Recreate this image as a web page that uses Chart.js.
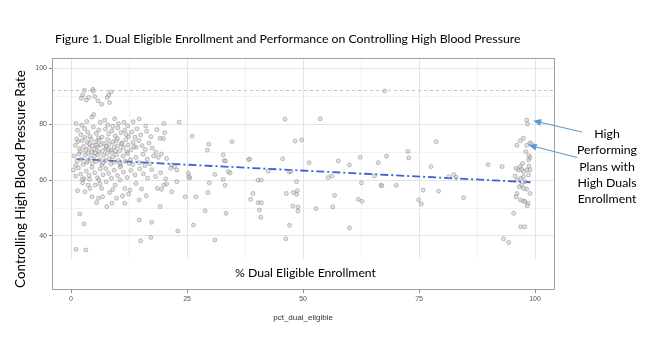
<!DOCTYPE html>
<html>
<head>
<meta charset="utf-8">
<script src="https://cdn.jsdelivr.net/npm/chart.js@4.4.1/dist/chart.umd.min.js"></script>
<style>
  html, body { margin: 0; padding: 0; background: #fff; }
  #chart { display: block; }
</style>
</head>
<body>
<canvas id="chart" width="664" height="340"></canvas>
<script>
// Plans: [pct dual eligible, controlling BP rate]
const lowDualPlans = [
  [2.9,92.1],[4.7,92.4],[4.8,91.8],[2.5,90.4],[3.8,89.5],[5.1,89.8],[5.8,88.3],[6.6,87.1],[8.1,90.4],[7.8,89.5],[8.6,91.4],[8.3,87.7],[2.2,89.2],[3.3,88.6],
  [4.5,82.5],[4.9,83.4],[1.1,80.2],[2.3,79.6],[7.3,81.4],[9.4,81.9],[11.4,80.6],[12.2,79.4],[14.7,81.8],[13.4,80.8],[6.3,80.6],[3.4,80.9],[10.2,80.1],[20.0,80.2],[23.3,80.7],[16.1,79.3],
  [1.4,77.8],[2.1,76.2],[2.9,78.4],[3.6,77.1],[4.1,75.6],[4.8,78.9],[5.4,76.7],[6.0,77.9],[6.7,75.4],[7.4,78.2],[8.1,76.5],[8.8,77.6],[9.5,75.8],[10.1,78.6],[10.8,76.9],[11.6,77.8],
  [12.4,75.6],[13.1,77.2],[14.2,78.3],[15.0,76.1],[16.3,77.4],[17.2,75.5],[18.5,78.0],[20.2,76.9],[19.9,74.8],[19.2,74.9],[3.0,75.2],[5.9,75.1],[9.0,79.2],[11.9,76.2],[7.9,79.7],[13.8,75.3],
  [0.9,72.4],[1.5,73.8],[1.8,71.2],[2.4,74.1],[2.7,72.0],[3.1,70.6],[3.5,73.4],[3.9,71.5],[4.3,74.6],[4.6,72.3],[5.0,70.9],[5.3,73.7],[5.7,71.8],[6.1,74.2],[6.4,72.6],[6.8,70.4],
  [7.1,73.1],[7.5,71.4],[7.9,74.5],[8.2,72.8],[8.6,70.7],[9.0,73.6],[9.3,71.9],[9.7,74.0],[10.1,72.2],[10.5,70.5],[10.9,73.3],[11.3,71.6],[11.8,74.4],[12.3,72.5],[12.9,70.8],[13.4,73.5],
  [14.0,71.7],[14.6,74.1],[15.3,72.3],[16.0,70.9],[16.8,73.2],[17.5,71.4],[18.3,69.9],[19.5,69.3],[2.0,70.2],[4.0,73.0],[6.0,70.0],[8.0,71.0],[10.0,74.8],[12.0,70.1],[1.2,74.7],[5.5,72.5],
  [7.6,72.0],[9.6,70.3],[11.0,72.9],[13.6,72.0],
  [0.7,68.6],[1.3,66.8],[1.7,69.3],[2.2,67.4],[2.6,65.6],[3.0,68.9],[3.4,66.3],[3.8,69.6],[4.2,67.8],[4.6,65.9],[5.0,68.4],[5.4,66.6],[5.8,69.1],[6.2,67.2],[6.6,65.4],[7.0,68.7],
  [7.4,66.9],[7.8,69.5],[8.2,67.6],[8.6,65.7],[9.0,68.2],[9.4,66.4],[9.8,69.0],[10.2,67.0],[10.7,65.3],[11.2,68.5],[11.7,66.7],[12.2,69.4],[12.8,67.3],[13.3,65.5],[14.0,68.1],[14.7,66.2],
  [15.5,69.2],[16.4,67.5],[17.0,65.8],[17.8,68.6],[18.8,68.1],[20.6,67.7],[21.7,65.4],[1.0,65.2],[3.6,67.0],[5.2,69.8],[6.9,66.0],[8.8,69.9],[10.5,66.1],[12.5,65.9],[4.4,69.9],[15.9,65.1],
  [0.5,63.6],[1.0,61.4],[1.6,64.3],[2.1,62.1],[2.8,60.5],[3.3,63.2],[3.9,61.7],[4.5,64.5],[5.1,62.6],[5.7,60.8],[6.3,63.9],[6.9,61.9],[7.5,64.1],[8.1,62.4],[8.7,60.6],[9.3,63.5],
  [10.0,61.6],[10.6,64.6],[11.3,62.8],[12.1,60.9],[12.9,63.4],[13.8,61.8],[14.8,64.0],[15.6,62.2],[16.5,60.7],[17.4,63.7],[18.2,61.3],[22.3,64.8],[21.5,64.2],[22.8,63.6],[25.3,62.4],[25.4,61.2],
  [19.3,62.6],[20.4,60.4],[2.4,60.2],[4.0,60.3],[6.0,60.0],
  [1.4,56.2],[3.7,58.2],[5.2,58.2],[6.2,58.6],[6.6,57.0],[4.1,57.0],[9.5,58.2],[10.6,60.0],[11.6,57.0],[12.7,56.4],[12.4,55.0],[8.3,55.5],[18.6,57.0],[20.0,58.2],[20.6,58.6],[21.7,55.8],
  [22.8,59.4],[19.5,56.7],[16.2,54.4],[2.5,59.0],[7.6,59.4],[14.0,58.8],[15.2,56.8],[3.0,55.8],[9.0,56.6],
  [4.5,54.0],[5.9,53.5],[6.8,54.0],[5.5,51.9],[7.7,50.5],[8.8,51.7],[9.8,53.5],[11.1,54.3],[11.6,51.7],[14.7,52.9],[19.2,50.5],[24.6,54.0],[1.9,47.9],[2.8,44.3],[14.7,45.7],[17.4,44.9],
  [23.0,41.8],[15.0,38.3],[17.2,39.5],[1.1,35.2],[3.2,35.0]
];

const midDualPlans = [
  [26.1,75.7],[25.6,60.7],[26.9,54.0],[26.4,43.9],[29.7,72.8],[29.4,70.7],[32.8,69.0],[33.0,66.9],[33.3,66.8],[34.7,73.7],[33.9,63.0],[34.3,62.5],[31.0,62.0],[29.8,59.0],[32.8,60.2],[33.2,58.1],
  [29.5,55.5],[28.9,49.0],[33.4,48.1],[31.0,38.6],[38.3,67.3],[38.5,67.5],[40.3,59.9],[41.0,60.0],[39.2,55.2],[38.7,53.1],[40.3,51.9],[41.0,51.9],[40.6,49.3],[40.9,46.7],[42.5,63.2],[46.1,81.7],
  [45.6,67.6],[47.0,62.9],[47.4,63.1],[46.4,55.2],[47.9,55.5],[48.6,54.9],[48.8,56.2],[47.8,50.7],[48.9,50.4],[48.9,48.9],[47.1,43.8],[46.3,39.0],[48.3,73.9],[49.7,74.3],[48.6,59.4],[53.7,81.9],
  [51.3,66.2],[52.8,49.8],[55.4,60.9],[56.2,61.4],[56.8,54.5],[56.4,50.4],[57.6,66.8],[60.0,42.9],[60.0,65.4],[61.9,53.1],[62.3,68.1],[62.6,59.0],[62.7,52.4],[65.4,61.5],[66.2,66.2],[66.8,58.2],
  [67.0,57.9],[68.0,68.5],[67.6,91.8],[70.1,58.1],[72.6,70.2],[72.8,67.9],[74.9,52.9],[75.5,51.4],[75.9,56.4],[77.6,64.8],[78.7,73.7],[79.2,56.0],[81.4,61.2],[82.5,61.9],[83.0,61.0],[84.6,53.7],
  [89.9,65.5]
];

const highDualPlans = [
  [92.9,64.8],[93.2,39.0],[94.3,37.7],[95.4,48.1],[98.2,81.4],[98.4,80.0],[96.1,72.4],[96.8,74.0],[97.5,74.9],[98.2,72.4],[98.9,73.3],[99.3,72.9],
  [98.0,70.1],[98.7,68.7],[98.9,68.0],[98.6,67.2],[98.7,65.0],[98.2,63.6],[98.9,63.6],[98.6,61.8],[97.3,65.9],[96.8,64.8],[96.4,63.6],[97.1,63.8],[97.5,63.0],[95.9,64.2],
  [95.7,61.4],[96.1,60.0],[96.9,60.6],[97.5,61.2],[97.8,59.4],[97.1,58.2],[96.6,57.6],[97.5,57.0],[98.2,56.7],[98.9,55.2],[96.1,55.2],[95.9,54.0],[96.8,52.9],[97.5,52.5],[97.8,52.3],
  [98.5,51.7],[98.3,50.8],[96.9,43.3],[97.8,43.3]
];

// fitted trend (ends of the dash-dot line)
const trendX = [1.2, 99.0];
const trendY = [67.5, 59.2];

const benchmarkRate = 92;

const xRange = [-4.1, 104.3];
const yRange = [20.7, 103.6];
const xMajorTicks = [0, 25, 50, 75, 100];
const xMinorTicks = [12.5, 37.5, 62.5, 87.5];
const yMajorTicks = [40, 60, 80, 100];
const yMinorTicks = [50, 70, 90];

const titleText = 'Figure 1. Dual Eligible Enrollment and Performance on Controlling High Blood Pressure';
const yTitleText = 'Controlling High Blood Pressure Rate';
const xTitleText = 'pct_dual_eligible';
const xBoxText = '% Dual Eligible Enrollment';
const calloutLines = ['High', 'Performing', 'Plans with', 'High Duals', 'Enrollment'];

const FONT = 'Lato, "Liberation Sans", sans-serif';

function toPoints(pairs) {
  return pairs.map(p => ({ x: p[0], y: p[1] }));
}

// size a font so the text fills the given width
function fitSize(ctx, text, width) {
  ctx.font = '100px ' + FONT;
  return 100 * width / ctx.measureText(text).width;
}

function arrow(ctx, x1, y1, x2, y2) {
  const ang = Math.atan2(y2 - y1, x2 - x1);
  const len = 8, half = 3.5;
  const bx = x2 - len * Math.cos(ang), by = y2 - len * Math.sin(ang);
  ctx.beginPath();
  ctx.moveTo(x1, y1);
  ctx.lineTo(bx, by);
  ctx.stroke();
  ctx.beginPath();
  ctx.moveTo(x2, y2);
  ctx.lineTo(bx + half * Math.sin(ang), by - half * Math.cos(ang));
  ctx.lineTo(bx - half * Math.sin(ang), by + half * Math.cos(ang));
  ctx.closePath();
  ctx.fill();
}

const annotate = {
  id: 'annotate',
  beforeDatasetsDraw(chart) {
    // white text box pasted over the bottom of the panel
    const { ctx, chartArea: a } = chart;
    ctx.save();
    ctx.fillStyle = '#fff';
    ctx.fillRect(a.left + 1, 259, a.right - a.left - 2, a.bottom - 260);
    ctx.restore();
  },
  afterDraw(chart) {
    const { ctx, chartArea: a, scales } = chart;
    ctx.save();

    // panel border
    ctx.strokeStyle = '#a0a0a0';
    ctx.lineWidth = 1;
    ctx.strokeRect(a.left + 0.5, a.top + 0.5, a.right - a.left - 1, a.bottom - a.top - 1);

    ctx.fillStyle = '#000';
    ctx.textAlign = 'center';
    ctx.textBaseline = 'middle';

    let s = fitSize(ctx, titleText, 466);
    ctx.font = s.toFixed(2) + 'px ' + FONT;
    ctx.textAlign = 'left';
    ctx.fillText(titleText, 55, 39);
    ctx.textAlign = 'center';

    s = fitSize(ctx, xBoxText, 141);
    ctx.font = s.toFixed(2) + 'px ' + FONT;
    ctx.fillText(xBoxText, 305.5, 273);

    s = fitSize(ctx, yTitleText, 218);
    ctx.font = s.toFixed(2) + 'px ' + FONT;
    ctx.save();
    ctx.translate(21, 179);
    ctx.rotate(-Math.PI / 2);
    ctx.fillText(yTitleText, 0, 0);
    ctx.restore();

    // ggplot axis title
    ctx.fillStyle = '#333';
    ctx.font = '8px "Liberation Sans", sans-serif';
    ctx.fillText(xTitleText, scales.x.getPixelForValue(50), 318);

    // callout text
    ctx.fillStyle = '#000';
    s = fitSize(ctx, calloutLines[1], 60);
    ctx.font = s.toFixed(2) + 'px ' + FONT;
    calloutLines.forEach((t, i) => ctx.fillText(t, 607, 134 + i * 16.3));

    // arrows pointing at the high-dual, high-rate plans
    ctx.strokeStyle = '#5b9bd5';
    ctx.fillStyle = '#5b9bd5';
    ctx.lineWidth = 1.2;
    arrow(ctx, 582, 132, scales.x.getPixelForValue(99.6), scales.y.getPixelForValue(81.2));
    arrow(ctx, 577, 157.5, scales.x.getPixelForValue(98.6), scales.y.getPixelForValue(72.5));

    ctx.restore();
  }
};

const pointStyle = {
  type: 'scatter',
  pointRadius: 2,
  pointBorderWidth: 0.8,
  pointBackgroundColor: 'rgba(200,200,200,0.5)',
  pointBorderColor: 'rgba(110,110,110,0.5)',
  showLine: false
};

new Chart(document.getElementById('chart'), {
  type: 'scatter',
  data: {
    datasets: [
      {
        type: 'line',
        data: [{ x: xRange[0], y: benchmarkRate }, { x: xRange[1], y: benchmarkRate }],
        borderColor: '#b5b5b5',
        borderWidth: 0.8,
        borderDash: [3, 3],
        pointRadius: 0,
        fill: false
      },
      { ...pointStyle, data: toPoints(lowDualPlans) },
      { ...pointStyle, data: toPoints(midDualPlans) },
      { ...pointStyle, data: toPoints(highDualPlans) },
      {
        type: 'line',
        data: trendX.map((x, i) => ({ x: x, y: trendY[i] })),
        borderColor: '#3a62d6',
        borderWidth: 1.8,
        borderDash: [8, 3, 2, 3],
        pointRadius: 0,
        fill: false
      }
    ]
  },
  options: {
    responsive: false,
    animation: false,
    layout: { padding: { left: 0, top: 58, right: 109, bottom: 0 } },
    plugins: {
      legend: { display: false },
      tooltip: { enabled: false }
    },
    scales: {
      x: {
        type: 'linear',
        min: xRange[0],
        max: xRange[1],
        afterFit: s => { s.height = 50; },
        afterBuildTicks: s => { s.ticks = xMajorTicks.concat(xMinorTicks).sort((a, b) => a - b).map(v => ({ value: v })); },
        border: { display: false },
        grid: {
          color: c => xMajorTicks.includes(c.tick.value) ? '#e4e4e4' : '#f2f2f2',
          tickColor: c => xMajorTicks.includes(c.tick.value) ? '#8c8c8c' : 'rgba(0,0,0,0)',
          tickLength: 3,
          lineWidth: 1
        },
        ticks: {
          autoSkip: false,
          maxRotation: 0,
          padding: 2,
          color: '#555',
          font: { family: '"Liberation Sans", sans-serif', size: 7 },
          callback: v => xMajorTicks.includes(v) ? String(v) : ''
        }
      },
      y: {
        type: 'linear',
        min: yRange[0],
        max: yRange[1],
        afterFit: s => { s.width = 52; },
        afterBuildTicks: s => { s.ticks = yMajorTicks.concat(yMinorTicks).sort((a, b) => a - b).map(v => ({ value: v })); },
        border: { display: false },
        grid: {
          color: c => yMajorTicks.includes(c.tick.value) ? '#e4e4e4' : '#f2f2f2',
          tickColor: c => yMajorTicks.includes(c.tick.value) ? '#8c8c8c' : 'rgba(0,0,0,0)',
          tickLength: 3,
          lineWidth: 1
        },
        ticks: {
          autoSkip: false,
          padding: 2,
          color: '#555',
          font: { family: '"Liberation Sans", sans-serif', size: 7 },
          callback: v => yMajorTicks.includes(v) ? String(v) : ''
        }
      }
    }
  },
  plugins: [annotate]
});
</script>
</body>
</html>
